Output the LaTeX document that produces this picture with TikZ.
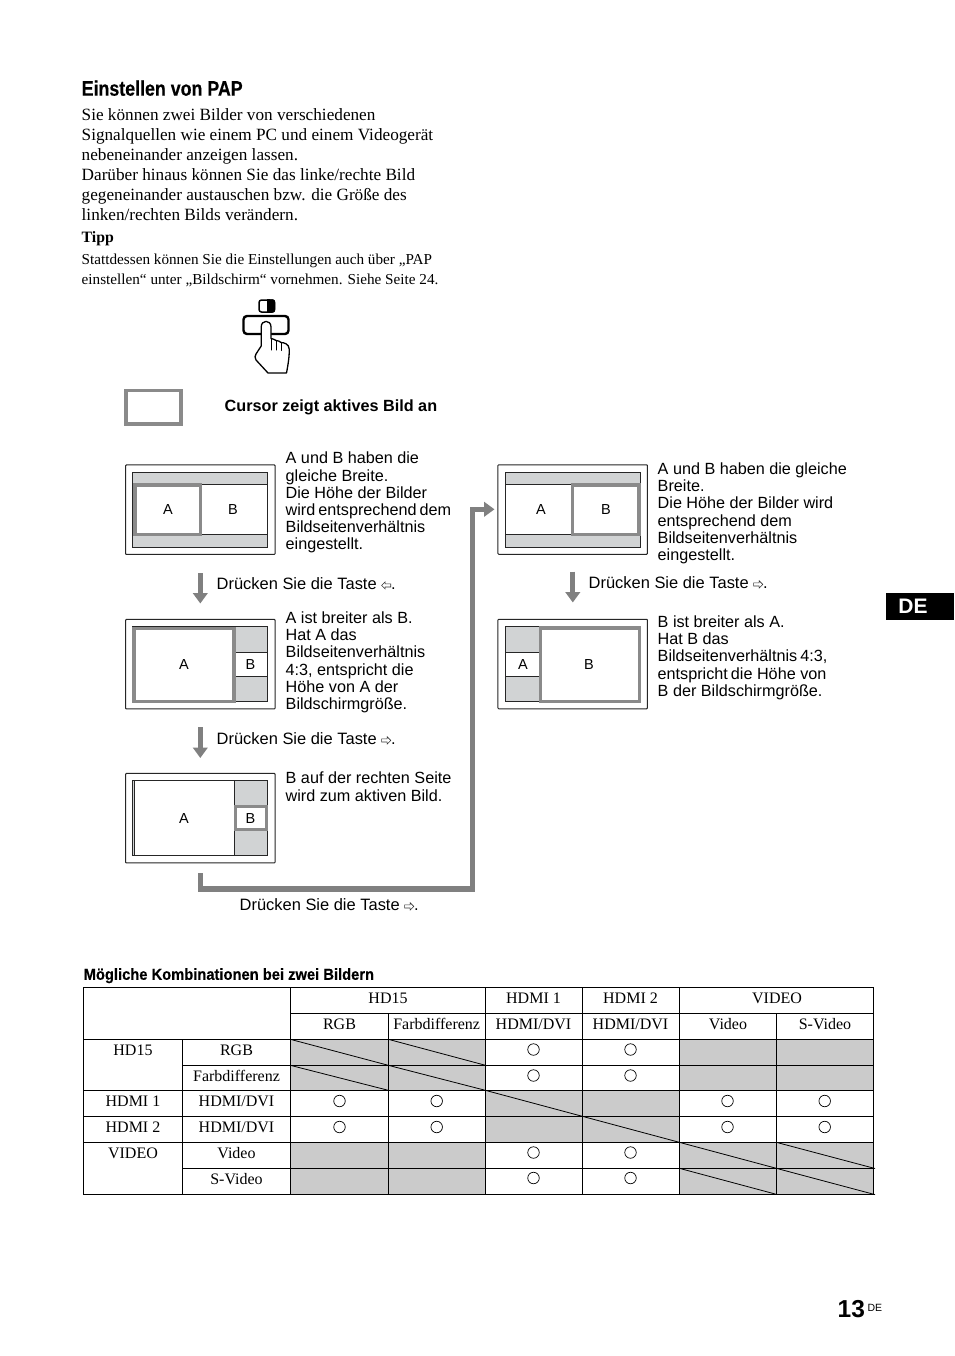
\documentclass[tikz,border=0pt]{standalone}
\usepackage{fontspec}
\setmainfont{Liberation Serif}
\setsansfont{Liberation Sans}
\newfontfamily\narrowb[FakeStretch=0.848,BoldFeatures={FakeBold=0.3}]{Liberation Sans}
\newfontfamily\narrowc[FakeStretch=0.92,BoldFeatures={FakeBold=0.3}]{Liberation Sans}
\usetikzlibrary{arrows.meta,shapes.geometric}
\definecolor{cellg}{HTML}{CBCBCB}
\definecolor{bandg}{HTML}{D1D3D4}
\definecolor{curg}{HTML}{8A8A8A}
\definecolor{arrg}{HTML}{808080}
\newcommand{\keyL}{\tikz[baseline=0pt,x=1pt,y=1pt]\draw[line width=.6pt,line join=miter,draw=black!80](0,3.6)--(3.6,7.2)--(3.6,5.2)--(9.2,5.2)--(9.2,2)--(3.6,2)--(3.6,0)--cycle;}
\newcommand{\keyR}{\tikz[baseline=0pt,x=1pt,y=1pt]\draw[line width=.6pt,line join=miter,draw=black!80](9.2,3.6)--(5.6,7.2)--(5.6,5.2)--(0,5.2)--(0,2)--(5.6,2)--(5.6,0)--cycle;}
\tikzset{
  x=1pt,y=-1pt,
  serifblock/.style={font=\fontsize{17.2}{20}\selectfont,anchor=north west,inner sep=0,align=left},
  tipblock/.style={font=\fontsize{15.2}{20.3}\selectfont,anchor=north west,inner sep=0,align=left},
  sanstext/.style={font=\sffamily\fontsize{16.2}{17.2}\selectfont,anchor=north west,inner sep=0,align=left},
  keytext/.style={font=\sffamily\fontsize{16.45}{17.2}\selectfont,anchor=base west,inner sep=0},
  ablabel/.style={font=\sffamily\fontsize{14.5}{15}\selectfont,inner sep=0},
  cell/.style={font=\fontsize{16}{17}\selectfont,inner sep=0,anchor=base},
  frame/.style={draw=black!85,line width=1pt,fill=white,rounded corners=.8pt},
  screen/.style={draw=black!85,line width=.9pt,fill=bandg},
  pic/.style={fill=white,draw=black!85,line width=.9pt},
  active/.style={draw=curg,line width=3.5pt,line join=miter},
  flow/.style={draw=arrg,line width=5.3pt},
  grid/.style={draw=black,line width=.9pt},
  okmark/.style={circle,draw=black,line width=.7pt,minimum size=11.5pt,inner sep=0},
}
\begin{document}
\begin{tikzpicture}
\useasboundingbox (0,0) rectangle (954,1356);
\fill[white] (0,0) rectangle (954,1356);
% heading & text
\node[anchor=base west,inner sep=0,font=\narrowb\bfseries\fontsize{21}{22}\selectfont] (title) at (81.5,95.7) {Einstellen von PAP};
\node[serifblock] (intro) at (81.5,108.3) {Sie können zwei Bilder von verschiedenen\\Signalquellen wie einem PC und einem Videogerät\\nebeneinander anzeigen lassen.\\Darüber hinaus können Sie das linke/rechte Bild\\gegeneinander austauschen bzw. die Größe des\\linken/rechten Bilds verändern.};
\node[anchor=base west,inner sep=0,font=\bfseries\fontsize{15.8}{16}\selectfont] (tipp) at (81.5,242.7) {Tipp};
\node[tipblock] (tiptext) at (81.5,253.5) {Stattdessen können Sie die Einstellungen auch über „PAP\\einstellen“ unter „Bildschirm“ vornehmen. Siehe Seite 24.};
% hand icon
\begin{scope}[line join=round,line cap=round]
\draw[line width=1.5pt,rounded corners=2.5pt,fill=white] (259,300) rectangle (274.5,312);
\fill[black,rounded corners=2.5pt] (267,299.3) rectangle (275.2,312.7);
\fill[black] (267,299.3) rectangle (270,312.7);
\draw[line width=2.4pt,rounded corners=3.5pt,fill=white] (243.5,316) rectangle (288.5,334);
\draw[line width=1.3pt,fill=white] (261.2,346) -- (261.2,327) .. controls (261.2,319.5) and (271,319.5) .. (271,327)
 -- (271,338.5) .. controls (273,339) and (275,339.5) .. (276,340.5)
 .. controls (278,340.5) and (280,341.5) .. (281,342.5)
 .. controls (284,342.5) and (289,344) .. (289.2,349) .. controls (289.5,356) and (288,365) .. (286.5,373)
 -- (268,373) -- (256,360) .. controls (254.5,358) and (255,355.5) .. (256,354) -- cycle;
\draw[line width=1pt] (271,338.5) -- (271,350);
\draw[line width=1pt] (276,340.5) -- (276,350);
\draw[line width=1pt] (281,342.5) -- (281,350.5);
\end{scope}
% cursor legend
\node[draw=curg,line width=3.7pt,minimum width=55pt,minimum height=33.8pt,inner sep=0,fill=white] (cursorbox) at (153.2,407.4) {};
\node[anchor=base west,inner sep=0,font=\sffamily\bfseries\fontsize{16.2}{17}\selectfont] (cursortext) at (224.5,411) {Cursor zeigt aktives Bild an};
% screen 1
\node[frame,minimum width=149.5pt,minimum height=89.5pt,inner sep=0] (s1) at (200.3,509.7) {};
\draw[screen] (132.3,472) rectangle (267.7,547.3);
\draw[pic] (132.3,484) rectangle (267.7,534.5);
\draw[active] (135,485) rectangle (200.7,534.3);
\node[ablabel] (s1a) at (168,509.5) {A};
\node[ablabel] (s1b) at (233,509.5) {B};
% screen 2
\node[frame,minimum width=149.5pt,minimum height=89.5pt,inner sep=0] (s2) at (200.3,664.2) {};
\draw[screen] (132.3,626.3) rectangle (267.7,701.7);
\draw[pic] (234,652.3) rectangle (267.7,676.3);
\draw[active,fill=white] (134.2,628.3) rectangle (234.2,701.7);
\node[ablabel] (s2a) at (184,664.5) {A};
\node[ablabel] (s2b) at (250.5,664.5) {B};
% screen 3
\node[frame,minimum width=149.5pt,minimum height=89.5pt,inner sep=0] (s3) at (200.3,818.2) {};
\draw[screen] (132.3,780.3) rectangle (267.7,855.7);
\draw[pic,fill=white] (134,780.3) rectangle (234.5,855.7);
\draw[active,fill=white] (235.3,806.3) rectangle (266.6,829.5);
\node[ablabel] (s3a) at (184,818.5) {A};
\node[ablabel] (s3b) at (250.5,818.5) {B};
% screen 4
\node[frame,minimum width=149.5pt,minimum height=89.5pt,inner sep=0] (s4) at (572.7,509.5) {};
\draw[screen] (505.5,472) rectangle (640,547.7);
\draw[pic] (505.5,484.3) rectangle (640,534.5);
\draw[active] (572.5,485) rectangle (639,534.3);
\node[ablabel] (s4a) at (541,509.5) {A};
\node[ablabel] (s4b) at (606,509.5) {B};
% screen 5
\node[frame,minimum width=149.5pt,minimum height=89.5pt,inner sep=0] (s5) at (572.7,664) {};
\draw[screen] (505.5,626.5) rectangle (640,701.7);
\draw[pic] (505.5,652.3) rectangle (540,676.3);
\draw[active,fill=white] (540.5,628) rectangle (639.3,701.5);
\node[ablabel] (s5a) at (523,664.5) {A};
\node[ablabel] (s5b) at (589,664.5) {B};
% side texts
\node[sanstext] (t1) at (285.5,452) {A und B haben die\\gleiche Breite.\\Die Höhe der Bilder\\wird\hspace{3pt}entsprechend\hspace{3pt}dem\\Bildseitenverhältnis\\eingestellt.};
\node[sanstext] (t2) at (285.5,611.5) {A ist breiter als B.\\Hat A das\\Bildseitenverhältnis\\4:3, entspricht die\\Höhe von A der\\Bildschirmgröße.};
\node[sanstext] (t3) at (285.5,772) {B auf der rechten Seite\\wird zum aktiven Bild.};
\node[sanstext] (t4) at (657.5,462.5) {A und B haben die gleiche\\Breite.\\Die Höhe der Bilder wird\\entsprechend dem\\Bildseitenverhältnis\\eingestellt.};
\node[sanstext] (t5) at (657.5,615.5) {B ist breiter als A.\\Hat B das\\Bildseitenverhältnis\hspace{3pt}4:3,\\entspricht\hspace{3pt}die Höhe von\\B der Bildschirmgröße.};
\node[keytext] (k1) at (216.5,589) {Drücken Sie die Taste \keyL.};
\node[keytext] (k2) at (216.5,744) {Drücken Sie die Taste \keyR.};
\node[keytext] (k3) at (239.5,910) {Drücken Sie die Taste \keyR.};
\node[keytext] (k4) at (588.5,588) {Drücken Sie die Taste \keyR.};
% connectors
\coordinate (a1s) at (200.3,573); \coordinate (a1e) at (200.3,603.5);
\coordinate (a2s) at (200.3,727); \coordinate (a2e) at (200.3,758);
\coordinate (a4s) at (572.8,571.5); \coordinate (a4e) at (572.8,602.5);
\coordinate (ls) at (200.5,873); \coordinate (lc1) at (200.5,889); \coordinate (lc2) at (472.7,889); \coordinate (lc3) at (472.7,509.3); \coordinate (le) at (494.5,509.3);
\draw[flow,-{Triangle[length=10.5pt,width=14.5pt]}] (a1s) -- (a1e);
\draw[flow,-{Triangle[length=10.5pt,width=14.5pt]}] (a2s) -- (a2e);
\draw[flow,-{Triangle[length=10.5pt,width=14.5pt]}] (a4s) -- (a4e);
\draw[flow,line join=miter,-{Triangle[length=10.5pt,width=14.5pt]}] (ls) -- (lc1) -- (lc2) -- (lc3) -- (le);
% table
\node[anchor=base west,inner sep=0,font=\narrowc\bfseries\fontsize{16}{17}\selectfont] (tabtitle) at (83.5,979.8) {Mögliche Kombinationen bei zwei Bildern};
\fill[cellg] (290.3,1039.3) rectangle (485.3,1090.3);
\fill[cellg] (679.3,1039.3) rectangle (873.3,1090.3);
\fill[cellg] (485.3,1090.3) rectangle (679.3,1142.3);
\fill[cellg] (290.3,1142.3) rectangle (485.3,1194.3);
\fill[cellg] (679.3,1142.3) rectangle (873.3,1194.3);
\draw[grid] (83.3,987.3) rectangle (873.3,1194.3);
\draw[grid] (290.3,1013.3) -- (873.3,1013.3);
\draw[grid] (83.3,1039.3) -- (873.3,1039.3);
\draw[grid] (182.3,1065.3) -- (873.3,1065.3);
\draw[grid] (83.3,1090.3) -- (873.3,1090.3);
\draw[grid] (83.3,1116.3) -- (873.3,1116.3);
\draw[grid] (83.3,1142.3) -- (873.3,1142.3);
\draw[grid] (182.3,1168.3) -- (873.3,1168.3);
\draw[grid] (182.3,1039.3) -- (182.3,1194.3);
\draw[grid] (290.3,987.3) -- (290.3,1194.3);
\draw[grid] (388.3,1013.3) -- (388.3,1194.3);
\draw[grid] (485.3,987.3) -- (485.3,1194.3);
\draw[grid] (582.3,987.3) -- (582.3,1194.3);
\draw[grid] (679.3,987.3) -- (679.3,1194.3);
\draw[grid] (776.3,1013.3) -- (776.3,1194.3);
\draw[grid] (873.3,987.3) -- (873.3,1194.3);
\foreach \a/\b/\c/\d in {290.3/1039.3/388.3/1065.3, 388.3/1039.3/487/1065.7, 290.3/1065.3/388.3/1090.3, 388.3/1065.3/485.3/1090.3, 485.3/1090.3/582.3/1116.3, 582.3/1116.3/679.3/1142.3, 679.3/1142.3/776.3/1168.3, 776.3/1142.3/875/1168.5, 679.3/1168.3/776.3/1194.3, 776.3/1168.3/875/1194.6}
  \draw[line width=.8pt] (\a,\b) -- (\c,\d);
\foreach \i/\x/\y/\t in {a/388/1003.5/HD15, b/533.5/1003.5/HDMI 1, c/630.5/1003.5/HDMI 2, d/777/1003.5/VIDEO, e/339.5/1029.6/RGB, f/436.7/1029.6/Farbdifferenz, g/533.5/1029.6/{HDMI/DVI}, h/630.5/1029.6/{HDMI/DVI}, i/728/1029.6/Video, j/825/1029.6/S-Video,
  k/133/1055.2/HD15, l/236.5/1055.2/RGB, m/236.5/1081.2/Farbdifferenz, n/133/1106.7/HDMI 1, o/236.5/1106.7/{HDMI/DVI}, p/133/1132.7/HDMI 2, q/236.5/1132.7/{HDMI/DVI}, r/133/1158.2/VIDEO, s/236.5/1158.2/Video, t/236.5/1184.2/S-Video}
  \node[cell] (cell\i) at (\x,\y) {\t};
\foreach \i/\x/\y in {a/533.5/1049.5, b/630.5/1049.5, c/533.5/1075.5, d/630.5/1075.5, e/339.5/1101, f/436.7/1101, g/339.5/1127, h/436.7/1127, i/727.5/1101, j/824.7/1101, k/727.5/1127, l/824.7/1127, m/533.5/1152.5, n/630.5/1152.5, o/533.5/1178, p/630.5/1178}
  \node[okmark] (ok\i) at (\x,\y) {};
% tab and page number
\fill[black] (886,593.3) rectangle (954,620);
\node[inner sep=0,anchor=base,text=white,font=\sffamily\bfseries\fontsize{21}{24}\selectfont] (detab) at (913,613.5) {DE};
\node[inner sep=0,anchor=base west,font=\sffamily\bfseries\fontsize{24.5}{26}\selectfont] (pageno) at (837.5,1317.7) {13};
\node[inner sep=0,anchor=base west,font=\sffamily\fontsize{10.5}{12}\selectfont] (pagede) at (867.3,1311) {DE};
\end{tikzpicture}
\end{document}
